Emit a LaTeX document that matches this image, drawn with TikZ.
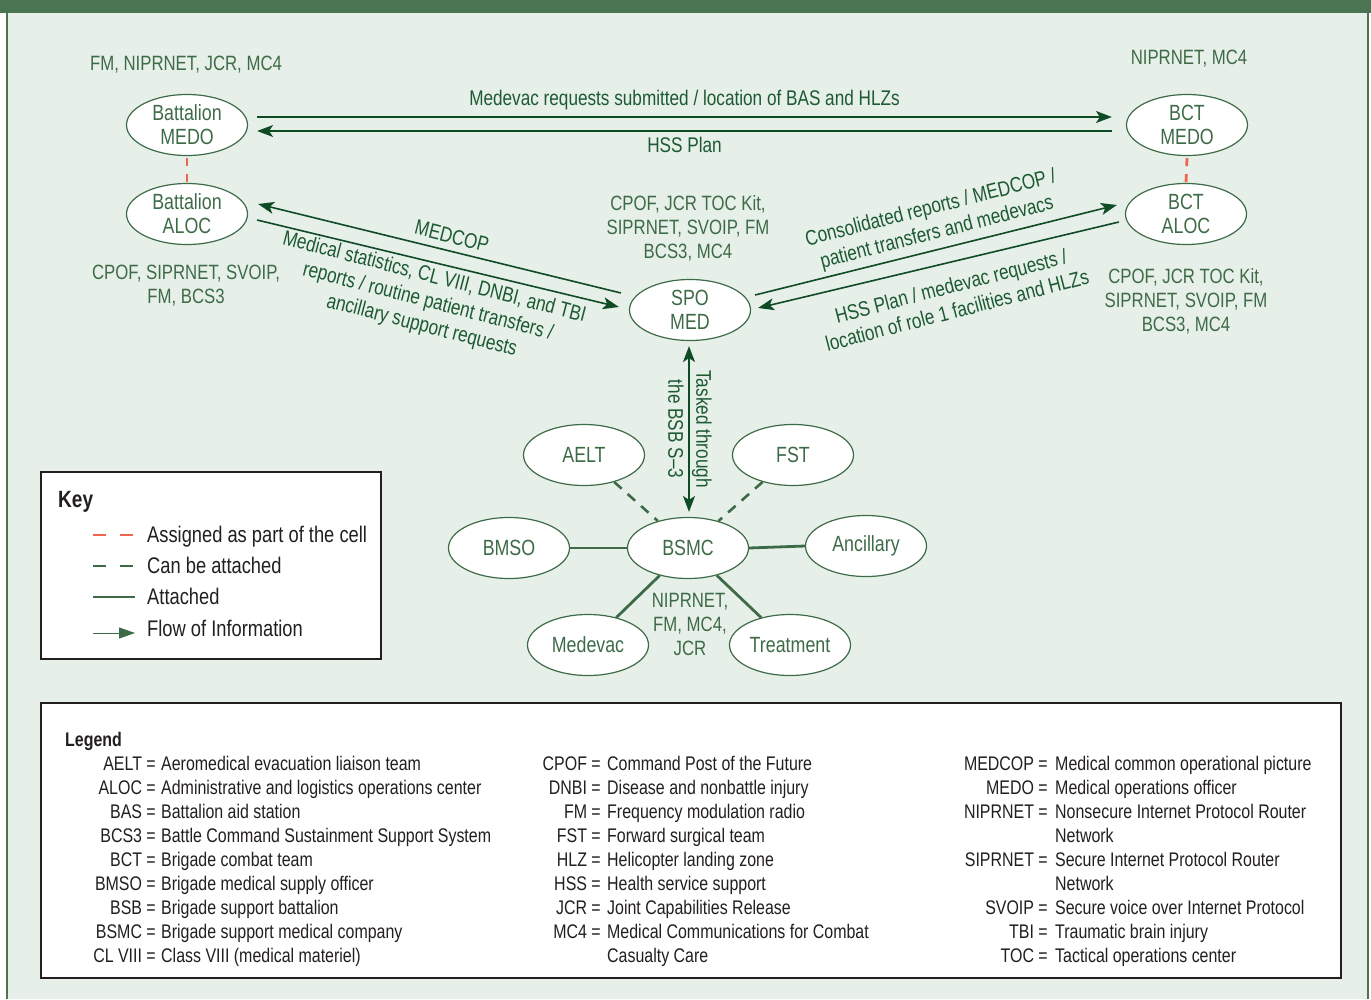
\documentclass[tikz,border=0pt]{standalone}
\usepackage{fontspec}
\setmainfont[FakeStretch=0.81]{Liberation Sans}
\usetikzlibrary{arrows.meta,shapes.geometric}
\definecolor{framegreen}{HTML}{4B7452}
\definecolor{bgc}{HTML}{E7EFE9}
\definecolor{ng}{HTML}{3E6B47}
\definecolor{ag}{HTML}{0F4C26}
\definecolor{atext}{HTML}{1C5A31}
\definecolor{redd}{HTML}{F0654D}
\definecolor{ink}{HTML}{231F20}
\newcommand\nfont{\fontsize{22}{24}\selectfont}
\newcommand\lfont{\fontsize{20.7}{24}\selectfont}
\newcommand\afont{\fontsize{21.2}{25}\selectfont}
\newcommand\kfont{\fontsize{22.6}{24}\selectfont}
\newcommand\gfont{\fontsize{19.7}{24}\selectfont}
\begin{document}
\begin{tikzpicture}[x=1pt,y=-1pt,
  ell/.style={ellipse, draw=ng, fill=white, line width=1.2pt, minimum width=121pt, minimum height=61pt, inner xsep=0pt, inner ysep=-8pt, text=ng, font=\nfont, align=center},
  lab/.style={text=ng, font=\lfont, align=center, inner sep=0pt},
  alab/.style={text=atext, font=\afont, align=center, inner sep=0pt},
  arr/.style={draw=ag, line width=1.6pt, -{Stealth[length=16pt,width=12pt,inset=4pt]}},
  dblarr/.style={draw=ag, line width=1.6pt, {Stealth[length=16pt,width=12pt,inset=4pt]}-{Stealth[length=16pt,width=12pt,inset=4pt]}},
  cell/.style={draw=redd, line width=2.8pt, dash pattern=on 8pt off 8pt},
  canatt/.style={draw=ng, line width=2.6pt, dash pattern=on 10pt off 8pt},
  att/.style={draw=ng, line width=2.8pt},
  keytxt/.style={anchor=base west, text=ink, font=\kfont, inner sep=0pt},
  abbr/.style={anchor=base east, text=ink, font=\gfont, inner sep=0pt},
  defn/.style={anchor=base west, text=ink, font=\gfont, inner sep=0pt}]
\useasboundingbox (0,0) rectangle (1371,999);
% frame and background
\fill[white] (0,0) rectangle (1371,999);
\fill[bgc] (7,0) rectangle (1368,999);
\draw[framegreen, line width=2.5pt] (7,0) -- (7,999);
\draw[framegreen, line width=2.5pt] (1368,0) -- (1368,999);
\fill[framegreen] (0,0) rectangle (1371,12.5);

% nodes
\node[ell] (bmedo) at (187,125) {Battalion\\MEDO};
\node[ell] (baloc) at (187,214) {Battalion\\ALOC};
\node[ell] (cmedo) at (1187,125) {BCT\\MEDO};
\node[ell] (caloc) at (1186,214) {BCT\\ALOC};
\node[ell] (spo) at (690,310) {SPO\\MED};
\node[ell] (aelt) at (584,455) {AELT};
\node[ell] (fst) at (793,455) {FST};
\node[ell] (bmso) at (509,548) {BMSO};
\node[ell] (bsmc) at (688,548) {BSMC};
\node[ell] (anc) at (866,546) {Ancillary};
\node[ell] (medv) at (588,645) {Medevac};
\node[ell] (treat) at (790,645) {Treatment};

% labels
\node[lab] (l1) at (186,65) {FM, NIPRNET, JCR, MC4};
\node[lab] (l2) at (1189,59) {NIPRNET, MC4};
\node[lab] (l3) at (186,286) {CPOF, SIPRNET, SVOIP,\\FM, BCS3};
\node[lab] (l4) at (688,228) {CPOF, JCR TOC Kit,\\SIPRNET, SVOIP, FM\\BCS3, MC4};
\node[lab] (l5) at (1186,301) {CPOF, JCR TOC Kit,\\SIPRNET, SVOIP, FM\\BCS3, MC4};
\node[lab] (l6) at (690,624) {NIPRNET,\\FM, MC4,\\JCR};

% cell links
\draw[cell] ([shift={(0,2)}]bmedo.south) -- (baloc.north);
\draw[cell] ([shift={(0,2)}]cmedo.south) -- (caloc.north);

% BSMC links
\draw[canatt] (aelt) -- (bsmc);
\draw[canatt] (fst) -- (bsmc);
\draw[att] (bmso.east) -- (bsmc.west);
\draw[att] (bsmc.east) -- (anc.west);
\draw[att] (medv) -- (bsmc);
\draw[att] (treat) -- (bsmc);

% flows
\draw[arr] ([shift={(9,-8)}]bmedo.east) -- node[alab, above=6pt] (t1) {Medevac requests submitted / location of BAS and HLZs} ([shift={(-14,-8)}]cmedo.west);
\draw[arr] ([shift={(-14,6)}]cmedo.west) -- node[alab, below=5.5pt] (t2) {HSS Plan} ([shift={(9,6)}]bmedo.east);
\draw[arr] ([shift={(-8,-17)}]spo.west) -- ([shift={(10,-10)}]baloc.east);
\draw[arr] ([shift={(9,6)}]baloc.east) -- ([shift={(-10,-3)}]spo.west);
\draw[arr] ([shift={(4,-15)}]spo.east) -- ([shift={(-8,-9)}]caloc.west);
\draw[arr] ([shift={(-6,8)}]caloc.west) -- ([shift={(7,-2)}]spo.east);
\draw[dblarr] ([shift={(-1,5)}]spo.south) -- ([shift={(1,-5)}]bsmc.north);

\node[alab, rotate=-14] (t3) at (452,236) {MEDCOP};
\node[alab, rotate=-14.5] (t4) at (428,302) {Medical statistics, CL VIII, DNBI, and TBI\\reports / routine patient transfers /\\ancillary support requests};
\node[alab, rotate=14.3] (t5) at (934,221) {Consolidated reports / MEDCOP /\\patient transfers and medevacs};
\node[alab, rotate=14.5] (t6) at (954,298) {HSS Plan / medevac requests /\\location of role 1 facilities and HLZs};
\node[alab, rotate=-90, font=\fontsize{21.2}{28}\selectfont] (t7) at (690,429) {Tasked through\\the BSB S--3};

% key
\draw[draw=ink, line width=1.2pt, fill=white] (41,472) rectangle (381,659);
\node[keytxt, font=\fontsize{23.5}{24}\selectfont\bfseries] (kh) at (58,507) {Key};
\coordinate (k1a) at (93,535); \coordinate (k1b) at (135,535);
\coordinate (k2a) at (93,566); \coordinate (k2b) at (135,566);
\coordinate (k3a) at (93,597); \coordinate (k3b) at (135,597);
\coordinate (k4a) at (93,633); \coordinate (k4b) at (135,633);
\draw[draw=redd, line width=2.2pt, dash pattern=on 13pt off 14pt] (k1a) -- (k1b);
\draw[draw=ng, line width=2.2pt, dash pattern=on 13pt off 14pt] (k2a) -- (k2b);
\draw[draw=ng, line width=2.2pt] (k3a) -- (k3b);
\draw[draw=ng, line width=1pt, -{Triangle[length=16pt,width=11pt]}] (k4a) -- (k4b);
\node[keytxt] (kt1) at (147,542) {Assigned as part of the cell};
\node[keytxt] (kt2) at (147,573) {Can be attached};
\node[keytxt] (kt3) at (147,604) {Attached};
\node[keytxt] (kt4) at (147,636) {Flow of Information};

% legend
\draw[draw=ink, line width=1.2pt, fill=white] (41,703) rectangle (1341,978);
\node[defn, font=\fontsize{19.7}{24}\selectfont\bfseries] (lh) at (65,746) {Legend};
\foreach \i/\a/\d in {0/AELT/Aeromedical evacuation liaison team,
  1/ALOC/Administrative and logistics operations center,
  2/BAS/Battalion aid station,
  3/BCS3/Battle Command Sustainment Support System,
  4/BCT/Brigade combat team,
  5/BMSO/Brigade medical supply officer,
  6/BSB/Brigade support battalion,
  7/BSMC/Brigade support medical company,
  8/CL VIII/Class VIII (medical materiel)}{
  \node[abbr] (ga\i) at (156,{770+24*\i}) {\a\ =};
  \node[defn] (gd\i) at (161,{770+24*\i}) {\d};
}
\foreach \i/\a/\d in {0/CPOF/Command Post of the Future,
  1/DNBI/Disease and nonbattle injury,
  2/FM/Frequency modulation radio,
  3/FST/Forward surgical team,
  4/HLZ/Helicopter landing zone,
  5/HSS/Health service support,
  6/JCR/Joint Capabilities Release,
  7/MC4/Medical Communications for Combat}{
  \node[abbr] (ha\i) at (601,{770+24*\i}) {\a\ =};
  \node[defn] (hd\i) at (607,{770+24*\i}) {\d};
}
\node[defn] (hd8) at (607,962) {Casualty Care};
\foreach \i/\a/\d in {0/MEDCOP/Medical common operational picture,
  1/MEDO/Medical operations officer,
  2/NIPRNET/Nonsecure Internet Protocol Router,
  4/SIPRNET/Secure Internet Protocol Router,
  6/SVOIP/Secure voice over Internet Protocol,
  7/TBI/Traumatic brain injury,
  8/TOC/Tactical operations center}{
  \node[abbr] (ia\i) at (1048,{770+24*\i}) {\a\ =};
  \node[defn] (id\i) at (1055,{770+24*\i}) {\d};
}
\node[defn] (id3) at (1055,842) {Network};
\node[defn] (id5) at (1055,890) {Network};
\end{tikzpicture}
\end{document}
